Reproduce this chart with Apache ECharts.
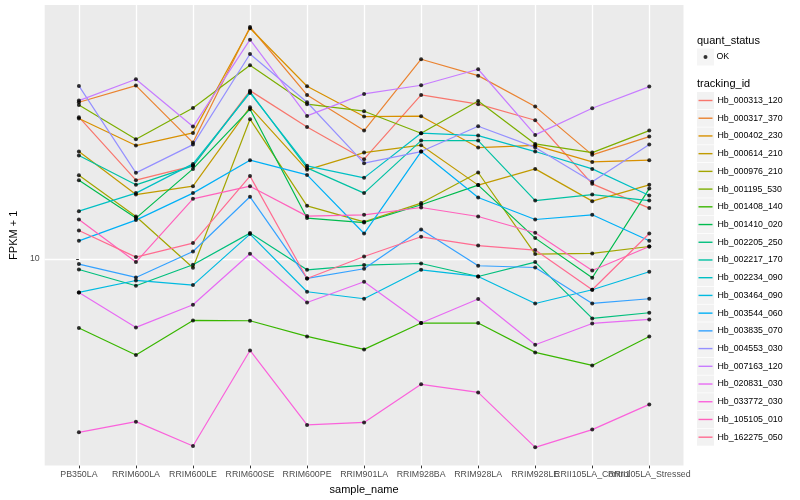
<!DOCTYPE html>
<html><head><meta charset="utf-8">
<script src="https://cdn.jsdelivr.net/npm/echarts@6.0.0/dist/echarts.min.js"></script>
<style>html,body{margin:0;padding:0;background:#fff}#c{width:800px;height:500px}</style>
</head><body><div id="c"></div>
<script>
const categories = ['PB350LA','RRIM600LA','RRIM600LE','RRIM600SE','RRIM600PE','RRIM901LA','RRIM928BA','RRIM928LA','RRIM928LE','RRII105LA_Control','RRII105LA_Stressed'];
const yTickValues = [10];
const trackingIds = ['Hb_000313_120','Hb_000317_370','Hb_000402_230','Hb_000614_210','Hb_000976_210','Hb_001195_530','Hb_001408_140','Hb_001410_020','Hb_002205_250','Hb_002217_170','Hb_002234_090','Hb_003464_090','Hb_003544_060','Hb_003835_070','Hb_004553_030','Hb_007163_120','Hb_020831_030','Hb_033772_030','Hb_105105_010','Hb_162275_050'];
const colors = ['#F8766D','#EA8331','#D89000','#C09B00','#A3A500','#7CAE00','#39B600','#00BB4E','#00BF7D','#00C1A3','#00BFC4','#00BAE0','#00B0F6','#35A2FF','#9590FF','#C77CFF','#E76BF3','#FA62DB','#FF62BC','#FF6C91'];

const hb000313_120 = [29.67,18.29,20.42,36.39,27.54,21.49,35.21,32.79,28.99,17.78,14.76];
const hb000317_370 = [33.29,37.82,24.42,59.33,35.21,26.77,46.31,40.83,32.19,22.22,25.57];
const hb000402_230 = [29.36,23.86,26.30,58.75,37.64,29.81,29.90,23.50,23.89,21.05,21.33];
const hb000614_210 = [22.79,16.38,17.47,32.04,19.80,22.61,23.93,17.61,19.95,15.57,17.65];
const hb000976_210 = [19.01,13.84,9.33,29.22,15.02,13.28,15.34,19.40,10.37,10.42,10.99];
const hb001195_530 = [32.61,25.06,31.86,44.23,32.79,31.07,26.24,33.63,24.17,22.61,26.77];
const hb001408_140 = [5.875,4.775,6.227,6.213,5.508,4.985,6.105,6.105,4.872,4.408,5.508];
const hb001410_020 = [18.29,13.67,19.95,31.55,13.67,13.21,15.14,17.61,11.72,8.644,17.15];
const hb002205_250 = [9.211,8.128,9.55,12.18,9.19,9.528,9.645,8.73,9.75,6.324,6.607];
const hb002217_170 = [22.10,17.65,20.42,36.03,20.10,16.56,24.79,24.79,15.64,16.38,15.64];
const hb002234_090 = [14.42,16.56,20.73,35.75,20.42,18.62,26.24,25.77,22.79,19.95,16.26];
const hb003464_090 = [7.721,8.466,8.171,12.09,7.762,7.357,9.19,8.73,7.095,7.883,9.051];
const hb003544_060 = [11.48,13.46,16.56,21.33,19.05,12.14,22.79,16.01,13.52,14.02,11.48];
const hb003835_070 = [9.601,8.664,10.58,16.10,8.597,9.262,12.52,9.478,9.354,7.095,7.357];
const hb004553_030 = [37.73,19.35,24.04,48.23,33.29,20.85,22.79,27.69,23.53,18.06,24.04];
const hb007163_120 = [33.71,39.72,27.61,53.83,29.97,35.48,37.93,42.88,25.90,31.79,37.53];
const hb020831_030 = [7.721,5.902,7.025,10.39,7.150,8.381,6.105,7.340,5.168,6.085,6.277];
const hb033772_030 = [2.636,2.862,2.375,4.946,2.790,2.846,3.811,3.583,2.349,2.692,3.268];
const hb105105_010 = [13.52,9.75,15.85,17.47,13.88,14.02,14.83,13.84,12.21,9.141,10.99];
const hb162275_050 = [12.43,10.13,11.28,18.87,8.597,10.18,11.84,11.07,10.69,7.883,12.14];

const seriesValues = [hb000313_120,hb000317_370,hb000402_230,hb000614_210,hb000976_210,hb001195_530,hb001408_140,hb001410_020,hb002205_250,hb002217_170,hb002234_090,hb003464_090,hb003544_060,hb003835_070,hb004553_030,hb007163_120,hb020831_030,hb033772_030,hb105105_010,hb162275_050];

const FONT = 'Liberation Sans, Arial, Helvetica, sans-serif';
const catIdx = categories.map((_, i) => i);
const evenIdx = catIdx.filter(i => i % 2 === 0);
const oddIdx = catIdx.filter(i => i % 2 === 1);

const lineSeries = trackingIds.map((id, i) => ({
  name: id, type: 'line',
  data: seriesValues[i].map((v, j) => [j, v]),
  showSymbol: false, symbol: 'none',
  lineStyle: { color: colors[i], width: 1.2 },
  itemStyle: { color: colors[i] },
  emphasis: { disabled: true }, z: 2
}));
const allPoints = [];
seriesValues.forEach(arr => arr.forEach((v, j) => allPoints.push([j, v])));
const pointSeries = {
  name: 'OK', type: 'scatter', data: allPoints,
  symbol: 'circle', symbolSize: 4,
  itemStyle: { color: '#000' }, emphasis: { disabled: true }, z: 5
};

const labelStyle = { formatter: v => categories[v], fontSize: 8.8, color: '#4D4D4D', margin: 4.5, fontFamily: FONT, hideOverlap: false };

const chart = echarts.init(document.getElementById('c'), null, { renderer: 'canvas' });
chart.setOption({
  animation: false,
  backgroundColor: '#fff',
  textStyle: { fontFamily: FONT },
  grid: { left: 35, right: 116.5, top: 5, bottom: 34, show: true, backgroundColor: '#EBEBEB', borderWidth: 0 },
  xAxis: [{
    type: 'value', min: -0.6, max: 10.6, position: 'bottom',
    name: 'sample_name', nameLocation: 'middle', nameGap: 16,
    nameTextStyle: { fontSize: 11, color: '#000', fontFamily: FONT },
    axisLine: { show: false },
    axisTick: { show: true, customValues: catIdx, length: 2.75, lineStyle: { color: '#333', width: 1 } },
    axisLabel: Object.assign({ customValues: evenIdx }, labelStyle),
    splitLine: { show: true, lineStyle: { color: '#fff', width: 1.3 } }
  }, {
    type: 'value', min: -0.6, max: 10.6, position: 'bottom', offset: 0,
    axisLine: { show: false },
    axisTick: { show: false },
    axisLabel: Object.assign({ customValues: oddIdx }, labelStyle),
    splitLine: { show: false }
  }],
  yAxis: {
    type: 'log', logBase: 10, min: 2.042, max: 70.25,
    name: 'FPKM + 1', nameLocation: 'middle', nameGap: 17,
    nameTextStyle: { fontSize: 11, color: '#000', fontFamily: FONT },
    axisLine: { show: false },
    axisTick: { show: true, customValues: yTickValues, length: 2.75, lineStyle: { color: '#333', width: 1 } },
    axisLabel: { customValues: yTickValues, fontSize: 8.8, color: '#4D4D4D', margin: 5, fontFamily: FONT, showMinLabel: true, showMaxLabel: true },
    splitLine: { show: true, lineStyle: { color: '#fff', width: 1.3 } }
  },
  legend: [
    { data: trackingIds, orient: 'vertical', left: 697, top: 92, itemWidth: 17, itemHeight: 17, itemGap: 0.72,
      icon: 'rect', itemStyle: { color: '#F2F2F2' }, formatter: () => ' ', textStyle: { fontSize: 1 }, selectedMode: false, padding: 0 },
    { data: trackingIds.map((n, i) => ({ name: n, itemStyle: { color: colors[i] } })), orient: 'vertical', left: 698.5, top: 92,
      itemWidth: 14, itemHeight: 1.4, itemGap: 0.72, icon: 'rect',
      textStyle: { fontSize: 8.8, lineHeight: 17, color: '#000', fontFamily: FONT }, selectedMode: false, padding: 0 },
    { data: ['OK'], orient: 'vertical', left: 697, top: 48.5, itemWidth: 17, itemHeight: 17, icon: 'rect',
      itemStyle: { color: '#F2F2F2' }, formatter: () => ' ', textStyle: { fontSize: 1 }, selectedMode: false, padding: 0 },
    { data: [{ name: 'OK', icon: 'circle' }], orient: 'vertical', left: 703.5, top: 48.5, itemWidth: 4, itemHeight: 4,
      textStyle: { fontSize: 8.8, lineHeight: 17, color: '#000', fontFamily: FONT, padding: [0, 0, 0, 4] }, selectedMode: false, padding: 0 }
  ],
  graphic: [
    { type: 'text', left: 697, top: 35, style: { text: 'quant_status', fontSize: 11, fontFamily: FONT, fill: '#000' } },
    { type: 'text', left: 697, top: 78.5, style: { text: 'tracking_id', fontSize: 11, fontFamily: FONT, fill: '#000' } }
  ],
  series: lineSeries.concat([pointSeries])
});
</script>
</body></html>
